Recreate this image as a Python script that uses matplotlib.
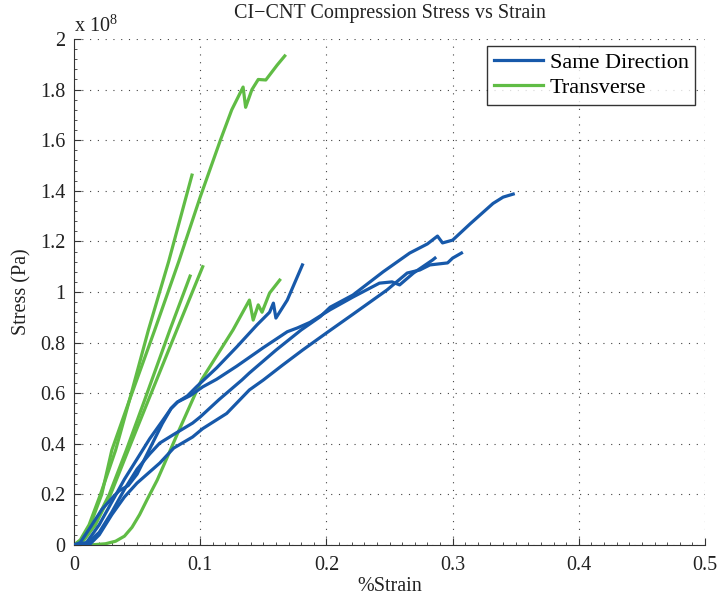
import matplotlib
matplotlib.use("Agg")
import matplotlib.pyplot as plt
from matplotlib.ticker import MultipleLocator

plt.rcParams['font.family'] = ['Liberation Serif', 'DejaVu Serif']
plt.rcParams['mathtext.fontset'] = 'custom'
plt.rcParams['mathtext.rm'] = 'Liberation Serif'

# ---- data (strain in %, stress in 1e8 Pa) ----
# Same Direction specimens
b1_x = [0, 0.010, 0.020, 0.030, 0.040, 0.050, 0.060, 0.068, 0.080, 0.094, 0.100, 0.115, 0.133, 0.139,
        0.160, 0.180, 0.195, 0.203, 0.221, 0.245, 0.266, 0.280, 0.288, 0.292, 0.300, 0.314, 0.332, 0.340, 0.348]
b1_y = [0, 0.005, 0.05, 0.13, 0.22, 0.30, 0.36, 0.403, 0.44, 0.482, 0.506, 0.575, 0.652, 0.68,
        0.77, 0.85, 0.902, 0.94, 0.988, 1.08, 1.154, 1.19, 1.221, 1.194, 1.205, 1.27, 1.35, 1.375, 1.387]

b2_x = [0, 0.012, 0.020, 0.030, 0.040, 0.050, 0.068, 0.079, 0.094, 0.102, 0.121, 0.139, 0.150, 0.165,
        0.181, 0.200, 0.221, 0.248, 0.264, 0.274, 0.282, 0.296, 0.300, 0.307]
b2_y = [0, 0.0, 0.04, 0.12, 0.19, 0.245, 0.324, 0.383, 0.427, 0.46, 0.52, 0.613, 0.652, 0.71,
        0.77, 0.838, 0.912, 1.008, 1.075, 1.087, 1.107, 1.115, 1.134, 1.154]

b3_x = [0, 0.010, 0.020, 0.030, 0.040, 0.050, 0.060, 0.070, 0.077, 0.082, 0.092, 0.102, 0.113, 0.129,
        0.150, 0.169, 0.177, 0.187, 0.203, 0.221, 0.242, 0.252, 0.258, 0.269, 0.284, 0.286]
b3_y = [0, 0.01, 0.08, 0.17, 0.26, 0.34, 0.42, 0.49, 0.54, 0.565, 0.59, 0.625, 0.655, 0.707,
        0.78, 0.843, 0.858, 0.88, 0.93, 0.98, 1.035, 1.04, 1.028, 1.075, 1.126, 1.134]

b4_x = [0, 0.005, 0.013, 0.022, 0.031, 0.036, 0.043, 0.050, 0.060, 0.070, 0.077, 0.082, 0.090, 0.097,
        0.113, 0.129, 0.145, 0.155, 0.158, 0.160, 0.169, 0.181]
b4_y = [0, 0.01, 0.07, 0.14, 0.19, 0.215, 0.235, 0.28, 0.38, 0.48, 0.54, 0.565, 0.59, 0.625,
        0.70, 0.783, 0.87, 0.92, 0.956, 0.897, 0.968, 1.107]

# Transverse specimens
g1_x = [0, 0.006, 0.013, 0.022, 0.030, 0.044, 0.064, 0.083, 0.100, 0.116, 0.125, 0.134, 0.136,
        0.141, 0.146, 0.152, 0.161, 0.167]
g1_y = [0, 0.02, 0.08, 0.20, 0.375, 0.573, 0.85, 1.12, 1.375, 1.60, 1.72, 1.81, 1.73,
        1.80, 1.84, 1.838, 1.897, 1.933]

g2_x = [0, 0.005, 0.012, 0.021, 0.033, 0.044, 0.059, 0.075, 0.0935]
g2_y = [0, 0.02, 0.08, 0.20, 0.375, 0.573, 0.85, 1.12, 1.462]

g3_x = [0, 0.007, 0.016, 0.028, 0.0415, 0.056, 0.076, 0.092]
g3_y = [0, 0.02, 0.08, 0.20, 0.375, 0.573, 0.85, 1.063]

g4_x = [0, 0.008, 0.017, 0.029, 0.043, 0.059, 0.0815, 0.102]
g4_y = [0, 0.02, 0.08, 0.20, 0.375, 0.573, 0.85, 1.10]

g5_x = [0, 0.012, 0.025, 0.033, 0.040, 0.046, 0.052, 0.058, 0.066, 0.074, 0.082, 0.101, 0.126, 0.139,
        0.142, 0.146, 0.149, 0.155, 0.163]
g5_y = [0, 0.0, 0.005, 0.015, 0.035, 0.07, 0.12, 0.18, 0.257, 0.348, 0.44, 0.652, 0.85, 0.968,
        0.889, 0.949, 0.92, 0.996, 1.047]

xticks = [0, 0.1, 0.2, 0.3, 0.4, 0.5]
xticklabels = ['0', '0.1', '0.2', '0.3', '0.4', '0.5']
yticks = [0, 0.2, 0.4, 0.6, 0.8, 1.0, 1.2, 1.4, 1.6, 1.8, 2.0]
yticklabels = ['0', '0.2', '0.4', '0.6', '0.8', '1', '1.2', '1.4', '1.6', '1.8', '2']

blue = '#1759AA'
green = '#60BC45'

fig = plt.figure(figsize=(7.18, 5.98), dpi=100)
ax = fig.add_axes([0.103, 0.0886, 0.879, 0.8462])

lw = 2.3
blue_series = [(b1_x, b1_y), (b2_x, b2_y), (b3_x, b3_y), (b4_x, b4_y)]
green_series = [(g1_x, g1_y), (g2_x, g2_y), (g3_x, g3_y), (g4_x, g4_y), (g5_x, g5_y)]
for i, (x, y) in enumerate(blue_series):
    ax.plot(x, y, color=blue, lw=lw, label='Same Direction' if i == 0 else None, zorder=3,
            solid_joinstyle='round')
for i, (x, y) in enumerate(green_series):
    ax.plot(x, y, color=green, lw=lw, label='Transverse' if i == 0 else None, zorder=2,
            solid_joinstyle='round')

ax.set_xlim(0, 0.5)
ax.set_ylim(0, 2.0)
ax.set_xticks(xticks)
ax.set_xticklabels(xticklabels)
ax.set_yticks(yticks)
ax.set_yticklabels(yticklabels)
ax.xaxis.set_minor_locator(MultipleLocator(0.01))
ax.yaxis.set_minor_locator(MultipleLocator(0.04))
ax.tick_params(which='both', direction='in', colors='#333333', labelcolor='#222222',
               labelsize=14.5, top=False, right=False)
ax.tick_params(which='major', length=5, width=0.8)
ax.tick_params(which='minor', length=2.5, width=0.6)
ax.tick_params(axis='x', pad=8)
ax.tick_params(axis='y', pad=6)

for s in ['top', 'right']:
    ax.spines[s].set_visible(False)
for s in ['left', 'bottom']:
    ax.spines[s].set_color('#333333')
    ax.spines[s].set_linewidth(0.8)

ax.grid(True, which='major', linestyle=(0, (1, 6)), color='#444444', linewidth=0.8)
ax.set_axisbelow(True)

ax.set_title('CI\u2212CNT Compression Stress vs Strain', fontsize=14.5, color='#222222', pad=15)
ax.set_xlabel('%Strain', fontsize=14.5, color='#222222', labelpad=1)
ax.set_ylabel('Stress (Pa)', fontsize=14.5, color='#222222', labelpad=6)

ax.text(0.0, 1.004, r'x 10$^{8}$', transform=ax.transAxes, fontsize=14.5,
        color='#222222', ha='left', va='bottom')

leg = ax.legend(loc='upper right', bbox_to_anchor=(0.995, 1.0), fontsize=16, frameon=True,
                fancybox=False, edgecolor='black', handlelength=2.2, borderpad=0.3,
                labelspacing=0.2, handletextpad=0.3, borderaxespad=0.3)
leg.get_frame().set_linewidth(1.0)

fig.savefig('out.png', dpi=100)
